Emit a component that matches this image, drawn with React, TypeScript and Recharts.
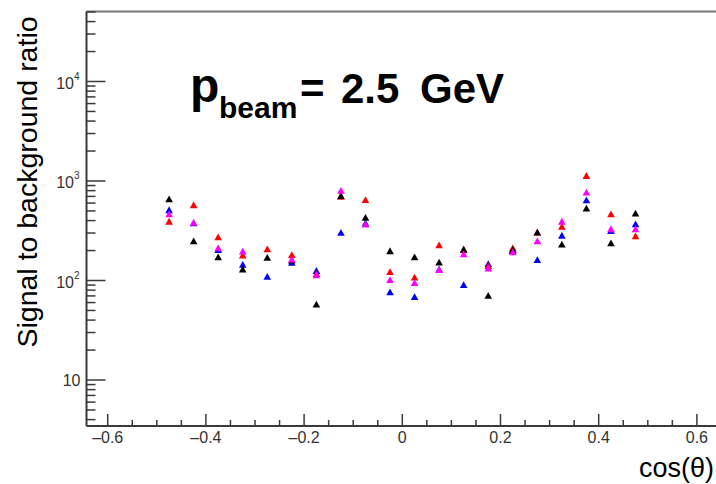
import { Scatter, ScatterChart, XAxis, YAxis } from "recharts";

// bin centres in cos(theta)
const cosTheta = [
  -0.475, -0.425, -0.375, -0.325, -0.275, -0.225, -0.175, -0.125, -0.075, -0.025,
  0.025, 0.075, 0.125, 0.175, 0.225, 0.275, 0.325, 0.375, 0.425, 0.475,
];

// signal / background per set
const blackRatio = [662, 250, 173, 130, 171, 160, 58, 715, 430, 199, 173, 153, 206, 71, 205, 306, 232, 533, 239, 475];
const blueRatio = [514, 380, 205, 145, 110, 152, 126, 305, 380, 77, 69, 130, 91, 148, 200, 162, 285, 647, 318, 371];
const magentaRatio = [468, 385, 213, 197, null, 164, 114, 803, 368, 102, 95, 129, 185, 133, 194, 250, 394, 772, 331, 331];
const redRatio = [394, 577, 275, 180, 208, 182, 117, 700, 651, 123, 108, 228, 206, 141, 213, 306, 351, 1135, 468, 281];

const xTicks = [
  -0.6, -0.55, -0.5, -0.45, -0.4, -0.35, -0.3, -0.25, -0.2, -0.15, -0.1, -0.05, 0,
  0.05, 0.1, 0.15, 0.2, 0.25, 0.3, 0.35, 0.4, 0.45, 0.5, 0.55, 0.6,
];
const xMajorTicks = [-0.6, -0.4, -0.2, 0, 0.2, 0.4, 0.6];

const yTicks = [
  4, 5, 6, 7, 8, 9, 10, 20, 30, 40, 50, 60, 70, 80, 90, 100, 200, 300, 400, 500, 600, 700, 800, 900,
  1000, 2000, 3000, 4000, 5000, 6000, 7000, 8000, 9000, 10000, 20000, 30000, 40000, 50000,
];
const yMajorTicks = [10, 100, 1000, 10000];
const yExponents: Record<number, string> = { 100: "2", 1000: "3", 10000: "4" };

const series = [
  { name: "blue", color: "#0000ff", values: blueRatio },
  { name: "red", color: "#ff0000", values: redRatio },
  { name: "black", color: "#000000", values: blackRatio },
  { name: "magenta", color: "#ff00ff", values: magentaRatio },
];

const font = "'Liberation Sans', Arial, sans-serif";
const axisColor = "#3a3a3a";

function toPoints(values: (number | null)[]) {
  return cosTheta
    .map((x, i) => ({ x, y: values[i] }))
    .filter((p) => p.y != null);
}

// small filled up-triangle, like ROOT marker 22
function Triangle(props: any) {
  const { cx, cy, fill } = props;
  if (cx == null || cy == null) return null;
  const h = 3.4;
  return <polygon points={`${cx - 3.8},${cy + h} ${cx + 3.8},${cy + h} ${cx},${cy - h}`} fill={fill} />;
}

function XTick(props: any) {
  const { x, y, payload } = props;
  const v = payload.value as number;
  const major = xMajorTicks.some((m) => Math.abs(m - v) < 1e-6);
  const label = v < 0 ? "\u2013" + Math.abs(v) : String(v);
  return (
    <g>
      <line x1={x} y1={y} x2={x} y2={y - (major ? 12 : 6)} stroke={axisColor} strokeWidth={1.5} />
      {major && (
        <text x={x} y={y + 17} textAnchor="middle" fontSize={16} fill="#333" fontFamily={font}>
          {label}
        </text>
      )}
    </g>
  );
}

function YTick(props: any) {
  const { x, y, payload } = props;
  const v = payload.value as number;
  const major = yMajorTicks.includes(v);
  const exp = yExponents[v];
  return (
    <g>
      <line x1={x} y1={y} x2={x + (major ? 19 : 9)} y2={y} stroke={axisColor} strokeWidth={1.5} />
      {major && !exp && (
        <text x={x - 6} y={y + 6} textAnchor="end" fontSize={16} fill="#333" fontFamily={font}>
          10
        </text>
      )}
      {major && exp && (
        <text x={x - 7} y={y + 7.5} textAnchor="end" fontSize={16} fill="#333" fontFamily={font}>
          <tspan>10</tspan>
          <tspan fontSize={10} dy={-9}>
            {exp}
          </tspan>
        </text>
      )}
    </g>
  );
}

export default function App() {
  return (
    <div style={{ position: "absolute", left: 0, top: 0, width: 716, height: 484, overflow: "hidden", background: "#fff" }}>
      <ScatterChart width={730} height={484} margin={{ top: 10.5, right: 11.9, bottom: 57, left: 85.5 }}>
        <XAxis
          type="number"
          dataKey="x"
          domain={[-0.6432, 0.6432]}
          allowDataOverflow
          ticks={xTicks}
          interval={0}
          height={1}
          tickSize={0}
          tickMargin={0}
          tickLine={false}
          tick={<XTick />}
          axisLine={{ stroke: axisColor, strokeWidth: 2 }}
        />
        <XAxis
          xAxisId="top"
          orientation="top"
          type="number"
          dataKey="x"
          domain={[-0.6432, 0.6432]}
          allowDataOverflow
          height={1}
          tick={false}
          tickLine={false}
          axisLine={{ stroke: "#777", strokeWidth: 2 }}
        />
        <YAxis
          type="number"
          dataKey="y"
          scale="log"
          domain={[3.45, 50500]}
          allowDataOverflow
          ticks={yTicks}
          interval={0}
          width={1}
          tickSize={0}
          tickMargin={0}
          tickLine={false}
          tick={<YTick />}
          axisLine={{ stroke: axisColor, strokeWidth: 2 }}
        />
        {series.map((s) => (
          <Scatter
            key={s.name}
            name={s.name}
            data={toPoints(s.values)}
            fill={s.color}
            shape={<Triangle />}
            isAnimationActive={false}
          />
        ))}
      </ScatterChart>
      <svg width={716} height={484} style={{ position: "absolute", left: 0, top: 0, pointerEvents: "none" }}>
        <text x={190} y={101.5} fontSize={48} fontWeight="bold" fontFamily={font} fill="#000">
          p
        </text>
        <text x={219} y={117.5} fontSize={30} fontWeight="bold" fontFamily={font} fill="#000">
          beam
        </text>
        <text x={300} y={102.5} fontSize={42} fontWeight="bold" fontFamily={font} fill="#000">
          =
        </text>
        <text x={341} y={102.5} fontSize={42} fontWeight="bold" fontFamily={font} fill="#000">
          2.5
        </text>
        <text x={420} y={102.5} fontSize={42} fontWeight="bold" fontFamily={font} fill="#000">
          GeV
        </text>
        <text
          x={37}
          y={182}
          transform="rotate(-90 37 182)"
          textAnchor="middle"
          fontSize={28.5}
          fontFamily={font}
          fill="#000"
        >
          Signal to background ratio
        </text>
        <text x={714} y={477} textAnchor="end" fontSize={27} fontFamily={font} fill="#000">
          cos(θ)
        </text>
      </svg>
    </div>
  );
}
